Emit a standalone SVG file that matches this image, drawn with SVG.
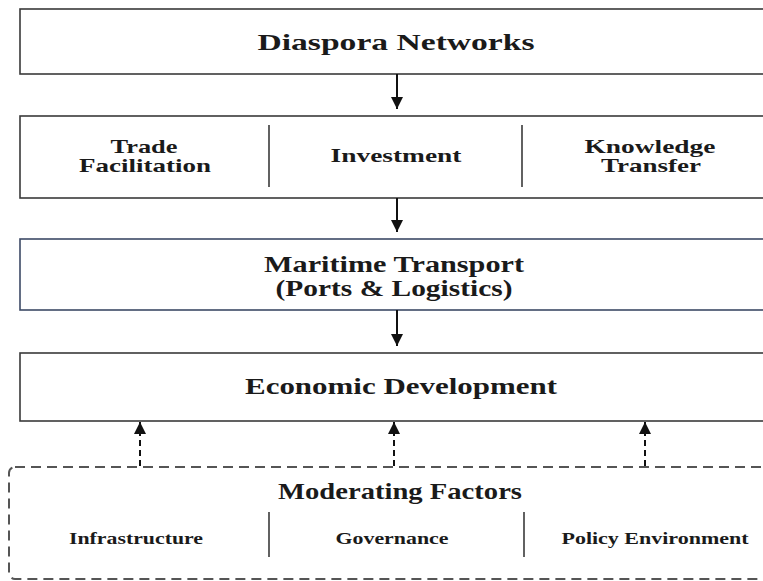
<svg xmlns="http://www.w3.org/2000/svg" width="763" height="581" viewBox="0 0 763 581">
<style>
.box{fill:#fff;stroke:#3a3a3a;stroke-width:1.6}
.dbox{fill:#fff;stroke:#555;stroke-width:2;stroke-dasharray:10 6}
.div{stroke:#3a3a3a;stroke-width:1.6}
.t{font-family:"Liberation Serif","Times New Roman",serif;font-weight:bold;fill:#1a1a1a;text-anchor:middle}
.h{font-size:23px}
.m{font-size:19px}
.s{font-size:17px}
.arr{stroke:#111;stroke-width:2;fill:none}
.darr{stroke:#111;stroke-width:2;fill:none;stroke-dasharray:6 4}
</style>
<defs>
<marker id="ah" markerWidth="12" markerHeight="12" refX="10" refY="5" orient="auto" markerUnits="userSpaceOnUse" viewBox="0 0 10 10">
<path d="M0,0 L10,5 L0,10 Z" fill="#111"/>
</marker>
</defs>
<rect width="763" height="581" fill="#fff"/>
<g id="diaspora">
<rect class="box" x="20" y="9" width="760" height="65"/>
<text class="t h" x="396" y="50" textLength="277" lengthAdjust="spacingAndGlyphs">Diaspora Networks</text>
</g>
<g id="channels">
<rect class="box" x="20" y="116" width="760" height="82"/>
<line class="div" x1="269" y1="125" x2="269" y2="187"/>
<line class="div" x1="522" y1="125" x2="522" y2="187"/>
<text class="t m" x="144" y="153" textLength="67" lengthAdjust="spacingAndGlyphs">Trade</text>
<text class="t m" x="145" y="172" textLength="132" lengthAdjust="spacingAndGlyphs">Facilitation</text>
<text class="t m" x="396" y="162" textLength="131" lengthAdjust="spacingAndGlyphs">Investment</text>
<text class="t m" x="650" y="153" textLength="131" lengthAdjust="spacingAndGlyphs">Knowledge</text>
<text class="t m" x="651" y="172" textLength="100" lengthAdjust="spacingAndGlyphs">Transfer</text>
</g>
<g id="maritime">
<rect class="box" x="20" y="239" width="760" height="71" style="stroke:#3d4a66"/>
<text class="t h" x="394" y="272" textLength="260" lengthAdjust="spacingAndGlyphs">Maritime Transport</text>
<text class="t h" x="394" y="296" textLength="237" lengthAdjust="spacingAndGlyphs">(Ports &amp; Logistics)</text>
</g>
<g id="economic">
<rect class="box" x="20" y="353" width="760" height="68"/>
<text class="t h" x="401" y="394" textLength="312" lengthAdjust="spacingAndGlyphs">Economic Development</text>
</g>
<g id="moderating">
<rect class="dbox" x="9" y="467" width="780" height="112" rx="6"/>
<text class="t h" x="400" y="499" textLength="244" lengthAdjust="spacingAndGlyphs">Moderating Factors</text>
<line class="div" x1="269" y1="512" x2="269" y2="557"/>
<line class="div" x1="524" y1="512" x2="524" y2="557"/>
<text class="t s" x="136" y="544" textLength="134" lengthAdjust="spacingAndGlyphs">Infrastructure</text>
<text class="t s" x="392" y="544" textLength="113" lengthAdjust="spacingAndGlyphs">Governance</text>
<text class="t s" x="655" y="544" textLength="187" lengthAdjust="spacingAndGlyphs">Policy Environment</text>
</g>
<g id="connectors">
<line class="arr" x1="397" y1="74" x2="397" y2="109" marker-end="url(#ah)"/>
<line class="arr" x1="397" y1="198" x2="397" y2="232" marker-end="url(#ah)"/>
<line class="arr" x1="397" y1="310" x2="397" y2="346" marker-end="url(#ah)"/>
<line class="darr" x1="140" y1="466" x2="140" y2="422" marker-end="url(#ah)"/>
<line class="darr" x1="394" y1="466" x2="394" y2="422" marker-end="url(#ah)"/>
<line class="darr" x1="645" y1="466" x2="645" y2="422" marker-end="url(#ah)"/>
</g>
</svg>
